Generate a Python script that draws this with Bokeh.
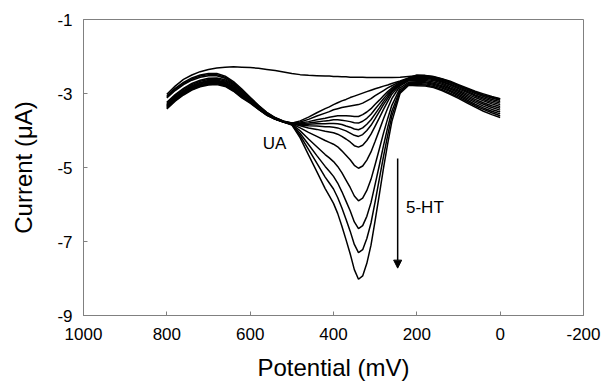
from bokeh.plotting import figure
from bokeh.models import Range1d, FixedTicker, Label, Arrow, NormalHead
from bokeh.embed import file_html
from bokeh.resources import INLINE

# ---------------- data ----------------
potential = [800, 780, 760, 740, 720, 700, 680, 660, 640, 620, 600, 580, 560, 540, 520,
             500, 480, 460, 440, 420, 410, 400, 390, 380, 370, 360, 350, 340, 330, 320, 310,
             300, 290, 280, 270, 260, 240, 220,
             200, 180, 160, 140, 120, 100, 80, 60, 40, 20, 0]

i_blank = [-3.02, -2.80, -2.62, -2.50, -2.41, -2.35, -2.31, -2.29, -2.28, -2.29, -2.30, -2.32, -2.35, -2.38, -2.42,
           -2.46, -2.49, -2.51, -2.52, -2.53, -2.53, -2.54, -2.54, -2.55, -2.55, -2.56, -2.56, -2.56, -2.56, -2.57, -2.57,
           -2.57, -2.57, -2.57, -2.57, -2.57, -2.56, -2.54,
           -2.52, -2.52, -2.55, -2.61, -2.69, -2.78, -2.87, -2.96, -3.04, -3.10, -3.15]
i_1 = [-3.06, -2.86, -2.70, -2.58, -2.50, -2.46, -2.46, -2.53, -2.68, -2.88, -3.10, -3.32, -3.51, -3.65, -3.75,
       -3.80, -3.74, -3.64, -3.52, -3.41, -3.36, -3.30, -3.25, -3.20, -3.16, -3.11, -3.07, -3.03, -2.99, -2.95, -2.91,
       -2.87, -2.84, -2.80, -2.77, -2.73, -2.66, -2.58,
       -2.50, -2.51, -2.54, -2.60, -2.67, -2.76, -2.85, -2.94, -3.01, -3.08, -3.14]
i_2 = [-3.09, -2.89, -2.73, -2.61, -2.53, -2.49, -2.49, -2.56, -2.71, -2.91, -3.12, -3.33, -3.52, -3.66, -3.75,
       -3.80, -3.77, -3.70, -3.61, -3.53, -3.49, -3.44, -3.41, -3.38, -3.36, -3.34, -3.32, -3.30, -3.26, -3.20, -3.14,
       -3.06, -2.99, -2.92, -2.85, -2.79, -2.68, -2.59,
       -2.52, -2.53, -2.56, -2.62, -2.70, -2.78, -2.88, -2.97, -3.05, -3.12, -3.18]
i_3 = [-3.12, -2.92, -2.76, -2.64, -2.56, -2.52, -2.52, -2.59, -2.74, -2.94, -3.14, -3.34, -3.53, -3.66, -3.75,
       -3.81, -3.80, -3.76, -3.71, -3.67, -3.64, -3.62, -3.60, -3.60, -3.60, -3.61, -3.62, -3.62, -3.57, -3.50, -3.41,
       -3.29, -3.18, -3.06, -2.95, -2.85, -2.70, -2.60,
       -2.54, -2.55, -2.58, -2.64, -2.72, -2.81, -2.91, -3.00, -3.08, -3.16, -3.22]
i_4 = [-3.24, -3.03, -2.86, -2.73, -2.64, -2.59, -2.58, -2.63, -2.76, -2.94, -3.15, -3.36, -3.54, -3.67, -3.76,
       -3.81, -3.81, -3.80, -3.77, -3.74, -3.73, -3.71, -3.71, -3.72, -3.74, -3.76, -3.79, -3.80, -3.75, -3.67, -3.56,
       -3.42, -3.28, -3.14, -3.01, -2.89, -2.71, -2.61,
       -2.56, -2.57, -2.60, -2.67, -2.75, -2.84, -2.94, -3.04, -3.12, -3.20, -3.26]
i_5 = [-3.27, -3.06, -2.89, -2.76, -2.67, -2.62, -2.61, -2.66, -2.79, -2.97, -3.17, -3.37, -3.55, -3.67, -3.76,
       -3.81, -3.83, -3.83, -3.82, -3.82, -3.81, -3.81, -3.82, -3.84, -3.88, -3.91, -3.96, -3.98, -3.93, -3.83, -3.71,
       -3.55, -3.39, -3.22, -3.07, -2.93, -2.72, -2.62,
       -2.58, -2.59, -2.62, -2.69, -2.77, -2.87, -2.97, -3.07, -3.16, -3.24, -3.30]
i_6 = [-3.30, -3.09, -2.92, -2.79, -2.70, -2.65, -2.64, -2.69, -2.82, -3.00, -3.19, -3.38, -3.56, -3.68, -3.76,
       -3.81, -3.85, -3.87, -3.88, -3.90, -3.90, -3.91, -3.93, -3.97, -4.01, -4.07, -4.13, -4.16, -4.11, -4.00, -3.86,
       -3.68, -3.49, -3.30, -3.13, -2.96, -2.74, -2.63,
       -2.61, -2.62, -2.65, -2.72, -2.81, -2.91, -3.01, -3.11, -3.20, -3.28, -3.35]
i_7 = [-3.32, -3.11, -2.94, -2.81, -2.72, -2.67, -2.66, -2.71, -2.84, -3.02, -3.20, -3.39, -3.56, -3.68, -3.76,
       -3.81, -3.87, -3.93, -3.97, -4.02, -4.04, -4.06, -4.10, -4.16, -4.23, -4.31, -4.41, -4.45, -4.40, -4.27, -4.10,
       -3.88, -3.66, -3.43, -3.22, -3.02, -2.76, -2.64,
       -2.64, -2.65, -2.69, -2.75, -2.85, -2.94, -3.05, -3.16, -3.25, -3.33, -3.40]
i_8 = [-3.34, -3.13, -2.96, -2.83, -2.74, -2.69, -2.68, -2.73, -2.86, -3.04, -3.21, -3.40, -3.57, -3.69, -3.77,
       -3.82, -3.93, -4.05, -4.16, -4.27, -4.32, -4.37, -4.44, -4.55, -4.67, -4.79, -4.94, -5.02, -4.96, -4.80, -4.58,
       -4.29, -3.99, -3.68, -3.40, -3.14, -2.79, -2.66,
       -2.67, -2.68, -2.72, -2.79, -2.88, -2.98, -3.09, -3.20, -3.29, -3.38, -3.45]
i_9 = [-3.36, -3.15, -2.98, -2.85, -2.76, -2.71, -2.70, -2.75, -2.88, -3.06, -3.22, -3.41, -3.57, -3.69, -3.77,
       -3.83, -4.01, -4.23, -4.44, -4.65, -4.74, -4.84, -4.97, -5.14, -5.34, -5.54, -5.77, -5.90, -5.83, -5.62, -5.32,
       -4.92, -4.50, -4.07, -3.68, -3.32, -2.85, -2.70,
       -2.70, -2.71, -2.75, -2.82, -2.92, -3.02, -3.13, -3.24, -3.34, -3.43, -3.50]
i_10 = [-3.38, -3.17, -3.00, -2.87, -2.78, -2.73, -2.72, -2.77, -2.90, -3.08, -3.23, -3.42, -3.58, -3.69, -3.77,
        -3.84, -4.08, -4.38, -4.68, -4.97, -5.10, -5.24, -5.42, -5.65, -5.91, -6.17, -6.47, -6.65, -6.57, -6.32, -5.95,
        -5.45, -4.94, -4.41, -3.92, -3.48, -2.90, -2.73,
        -2.73, -2.74, -2.78, -2.85, -2.95, -3.06, -3.17, -3.29, -3.39, -3.48, -3.55]
i_11 = [-3.40, -3.19, -3.02, -2.89, -2.80, -2.75, -2.74, -2.79, -2.92, -3.10, -3.25, -3.42, -3.58, -3.69, -3.77,
        -3.84, -4.14, -4.51, -4.88, -5.26, -5.42, -5.58, -5.81, -6.09, -6.40, -6.72, -7.08, -7.30, -7.22, -6.92, -6.50,
        -5.92, -5.31, -4.70, -4.13, -3.61, -2.95, -2.75,
        -2.76, -2.77, -2.81, -2.89, -2.99, -3.10, -3.21, -3.33, -3.43, -3.52, -3.60]
i_12 = [-3.42, -3.21, -3.04, -2.91, -2.82, -2.77, -2.76, -2.81, -2.94, -3.12, -3.26, -3.43, -3.59, -3.70, -3.77,
        -3.85, -4.20, -4.66, -5.11, -5.57, -5.77, -5.97, -6.24, -6.58, -6.95, -7.33, -7.76, -8.02, -7.93, -7.59, -7.10,
        -6.43, -5.73, -5.02, -4.36, -3.76, -2.99, -2.78,
        -2.79, -2.80, -2.84, -2.92, -3.02, -3.13, -3.25, -3.37, -3.48, -3.57, -3.65]

curves = [i_blank, i_1, i_2, i_3, i_4, i_5, i_6, i_7, i_8, i_9, i_10, i_11, i_12]

x_ticks = [1000, 800, 600, 400, 200, 0, -200]
x_tick_labels = ["1000", "800", "600", "400", "200", "0", "-200"]
y_ticks = [-9, -7, -5, -3, -1]
y_tick_labels = ["-9", "-7", "-5", "-3", "-1"]

for c in curves:
    if len(c) != len(potential):
        raise ValueError("length mismatch")

FONT = "Liberation Sans"
GREY = "#808080"

p = figure(width=602, height=385, x_range=Range1d(1000, -200), y_range=Range1d(-9, -1),
           output_backend="svg", toolbar_location=None,
           min_border_left=83, min_border_right=19, min_border_top=19, min_border_bottom=70)
p.background_fill_color = "white"
p.border_fill_color = "white"
p.outline_line_color = GREY
p.outline_line_width = 1
p.xgrid.visible = False
p.ygrid.visible = False

for ax, ticks, labels in ((p.xaxis[0], x_ticks, x_tick_labels), (p.yaxis[0], y_ticks, y_tick_labels)):
    ax.ticker = FixedTicker(ticks=ticks)
    ax.major_label_overrides = {t: l for t, l in zip(ticks, labels)}
    ax.minor_tick_line_color = None
    ax.major_tick_in = 4
    ax.major_tick_out = 0
    ax.major_tick_line_color = GREY
    ax.axis_line_color = GREY
    ax.major_label_text_font = FONT
    ax.major_label_text_font_size = "17px"
    ax.major_label_text_color = "black"
    ax.axis_label_text_font = FONT
    ax.axis_label_text_font_size = "24px"
    ax.axis_label_text_font_style = "normal"
    ax.axis_label_text_color = "black"

p.xaxis.axis_label = "Potential (mV)"
p.yaxis.axis_label = "Current (\u03bcA)"
p.xaxis.major_label_standoff = 12
p.xaxis.axis_label_standoff = 11
p.yaxis.major_label_standoff = 11
p.yaxis.axis_label_standoff = 17

for c in curves:
    p.line(potential, c, line_color="black", line_width=1.5)

p.add_layout(Label(x=570, y=-4.35, text="UA", text_font=FONT, text_font_size="17px",
                   text_align="left", text_baseline="middle", text_color="black"))
p.add_layout(Label(x=226, y=-6.08, text="5-HT", text_font=FONT, text_font_size="17px",
                   text_align="left", text_baseline="middle", text_color="black"))
p.add_layout(Arrow(end=NormalHead(size=8, fill_color="black", line_color="black"),
                   x_start=246, y_start=-4.76, x_end=246, y_end=-7.72,
                   line_color="black", line_width=1.5))

open("out.html", "w").write(file_html(p, INLINE))
